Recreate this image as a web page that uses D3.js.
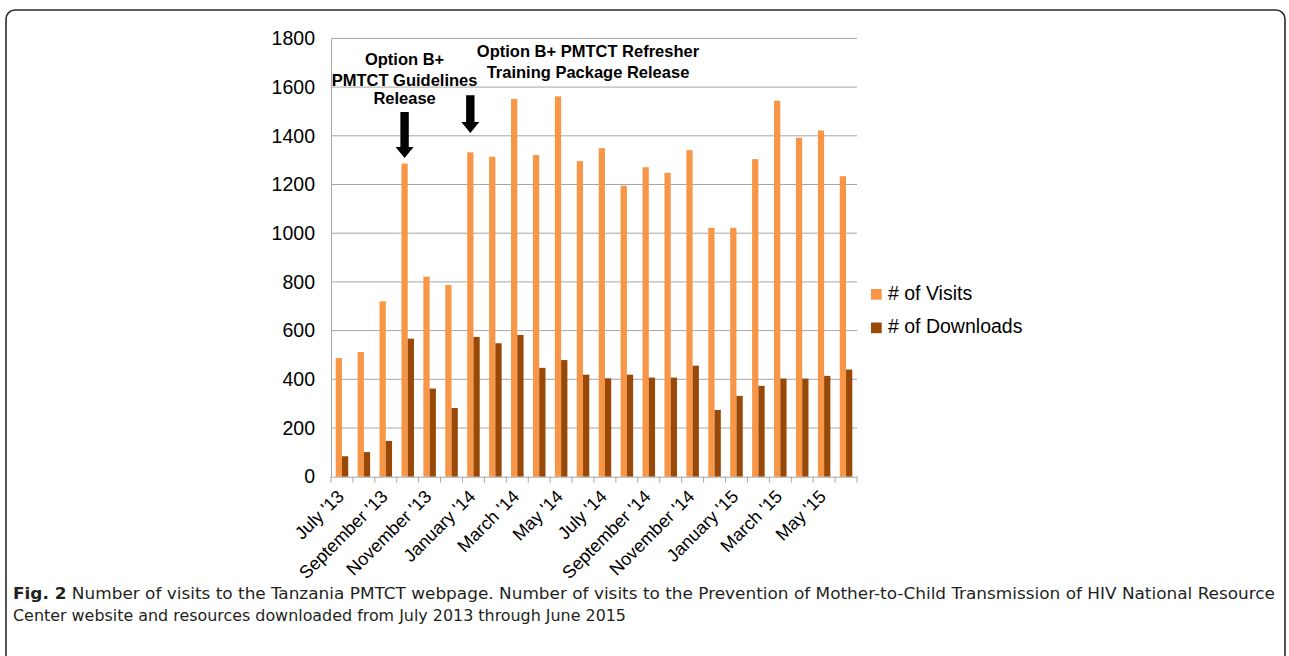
<!DOCTYPE html>
<html>
<head>
<meta charset="utf-8">
<script src="https://cdn.jsdelivr.net/npm/d3@7"></script>
<style>
  html, body { margin: 0; padding: 0; background: #fff; }
  svg { display: block; }
</style>
</head>
<body>
<svg id="chart" width="1289" height="656"></svg>
<script>
// ---- data ----
const months = ["July '13","August '13","September '13","October '13","November '13","December '13",
  "January '14","February '14","March '14","April '14","May '14","June '14",
  "July '14","August '14","September '14","October '14","November '14","December '14",
  "January '15","February '15","March '15","April '15","May '15","June '15"];
const visits = [487, 512, 720, 1286, 822, 787, 1332, 1314, 1551, 1321, 1562, 1296,
  1349, 1195, 1271, 1248, 1341, 1022, 1022, 1304, 1544, 1392, 1422, 1234];
const downloads = [84, 101, 147, 567, 362, 282, 574, 548, 582, 447, 479, 419,
  404, 419, 407, 407, 456, 274, 332, 373, 403, 403, 414, 440];
const yTicks = [0, 200, 400, 600, 800, 1000, 1200, 1400, 1600, 1800];
const seriesNames = ["# of Visits", "# of Downloads"];
const seriesColors = ["#F79646", "#984807"];
const annotations = [
  { month: "October '13", lines: ["Option B+", "PMTCT Guidelines", "Release"], top: 1498, tip: 1309 },
  { month: "January '14", lines: ["Option B+ PMTCT Refresher", "Training Package Release"], top: 1567, tip: 1411 }
];
const captionBold = "Fig. 2";
const captionLines = [
  " Number of visits to the Tanzania PMTCT webpage. Number of visits to the Prevention of Mother-to-Child Transmission of HIV National Resource",
  "Center website and resources downloaded from July 2013 through June 2015"
];

// ---- layout ----
const svg = d3.select("#chart");
const M = { left: 331, right: 857, top: 38.4, bottom: 476.7 };
const x = d3.scaleBand().domain(months).range([M.left, M.right]).paddingInner(0).paddingOuter(0);
const y = d3.scaleLinear().domain([0, 1800]).range([M.bottom, M.top]);
const sub = d3.scaleBand().domain([0, 1]).range([0, x.bandwidth()]).paddingInner(0).paddingOuter(0.75);
const af = "'Liberation Sans', Arial, sans-serif";

// frame
svg.append("rect").attr("x", 6).attr("y", 10).attr("width", 1279).attr("height", 720)
  .attr("rx", 9).attr("fill", "none").attr("stroke", "#2b2b2b").attr("stroke-width", 1.6);

// gridlines
svg.append("g").selectAll("line").data(yTicks.filter(d => d > 0)).join("line")
  .attr("x1", M.left).attr("x2", M.right)
  .attr("y1", d => y(d)).attr("y2", d => y(d))
  .attr("stroke", "#a6a6a6").attr("stroke-width", 1);

// bars
const groups = svg.append("g").selectAll("g").data(months).join("g")
  .attr("transform", d => `translate(${x(d)},0)`);
groups.append("rect")
  .attr("x", sub(0)).attr("width", sub.bandwidth())
  .attr("y", (d, i) => y(visits[i])).attr("height", (d, i) => y(0) - y(visits[i]))
  .attr("fill", seriesColors[0]);
groups.append("rect")
  .attr("x", sub(1)).attr("width", sub.bandwidth())
  .attr("y", (d, i) => y(downloads[i])).attr("height", (d, i) => y(0) - y(downloads[i]))
  .attr("fill", seriesColors[1]);

// y axis
const yAxis = d3.axisLeft(y).tickValues(yTicks).tickSize(0).tickPadding(16).tickFormat(d3.format("d"));
const yg = svg.append("g").attr("transform", `translate(${M.left},0)`).call(yAxis);
yg.select(".domain").attr("stroke", "#a6a6a6");
yg.selectAll("text").attr("font-family", af)
  .attr("font-size", 19.5).attr("fill", "#000");

// x axis
const xAxis = d3.axisBottom(x).tickSize(0).tickFormat((d, i) => i % 2 === 0 ? d : "");
const xg = svg.append("g").attr("transform", `translate(0,${M.bottom})`).call(xAxis);
xg.select(".domain").attr("stroke", "#a6a6a6");
const bounds = months.map(m => x(m)).concat([M.right]);
xg.append("g").selectAll("line").data(bounds).join("line")
  .attr("x1", d => d).attr("x2", d => d).attr("y1", 0).attr("y2", 6)
  .attr("stroke", "#a6a6a6");
xg.selectAll(".tick text")
  .attr("font-family", af)
  .attr("font-size", 18).attr("fill", "#000")
  .attr("text-anchor", "end").attr("dy", 0).attr("y", 0)
  .attr("transform", "translate(3,21) rotate(-45)");

// annotation arrows
annotations.forEach(a => {
  const cx = x(a.month) + sub(0) + sub.bandwidth() / 2;
  const tipY = y(a.tip), topY = y(a.top);
  const headH = 11, headW = 9, shaftW = 4.2;
  const p = d3.path();
  p.moveTo(cx - shaftW, topY);
  p.lineTo(cx + shaftW, topY);
  p.lineTo(cx + shaftW, tipY - headH);
  p.lineTo(cx + headW, tipY - headH);
  p.lineTo(cx, tipY);
  p.lineTo(cx - headW, tipY - headH);
  p.lineTo(cx - shaftW, tipY - headH);
  p.closePath();
  svg.append("path").attr("d", p.toString()).attr("fill", "#000");
});
// annotation texts
const t1 = svg.append("text").attr("font-family", af).attr("font-weight", "bold").attr("font-size", 16.5)
  .attr("text-anchor", "middle");
const c1 = x(annotations[0].month) + sub(0) + sub.bandwidth() / 2;
annotations[0].lines.forEach((l, i) => {
  t1.append("tspan").attr("x", c1).attr("y", [65, 86, 104][i]).text(l);
});
const t2 = svg.append("text").attr("font-family", af).attr("font-weight", "bold").attr("font-size", 16.5)
  .attr("text-anchor", "middle");
annotations[1].lines.forEach((l, i) => {
  t2.append("tspan").attr("x", 588).attr("y", [57, 78][i]).text(l);
});

// legend
const lg = svg.append("g").attr("transform", "translate(871,289)");
seriesNames.forEach((n, i) => {
  lg.append("rect").attr("x", 0).attr("y", i * 33.5).attr("width", 10.7).attr("height", 10.7).attr("fill", seriesColors[i]);
  lg.append("text").attr("x", 17).attr("y", i * 33.5 + 10.7).attr("font-family", af)
    .attr("font-size", 19.5).attr("fill", "#000").text(n);
});

// caption
const cf = "'DejaVu Sans Condensed', 'Liberation Sans Narrow', sans-serif";
const cap1 = svg.append("text").attr("x", 13).attr("y", 599).attr("font-family", cf).attr("font-size", 16.5).attr("fill", "#231f20");
cap1.append("tspan").attr("font-weight", "bold").text(captionBold);
cap1.append("tspan").text(captionLines[0]);
const cap2 = svg.append("text").attr("x", 13).attr("y", 621).attr("font-family", cf).attr("font-size", 16.5).attr("fill", "#231f20")
  .text(captionLines[1]);
if (cap1.node().getComputedTextLength() > 0) cap1.attr("textLength", 1262).attr("lengthAdjust", "spacingAndGlyphs");
if (cap2.node().getComputedTextLength() > 0) cap2.attr("textLength", 613).attr("lengthAdjust", "spacingAndGlyphs");
</script>
</body>
</html>
